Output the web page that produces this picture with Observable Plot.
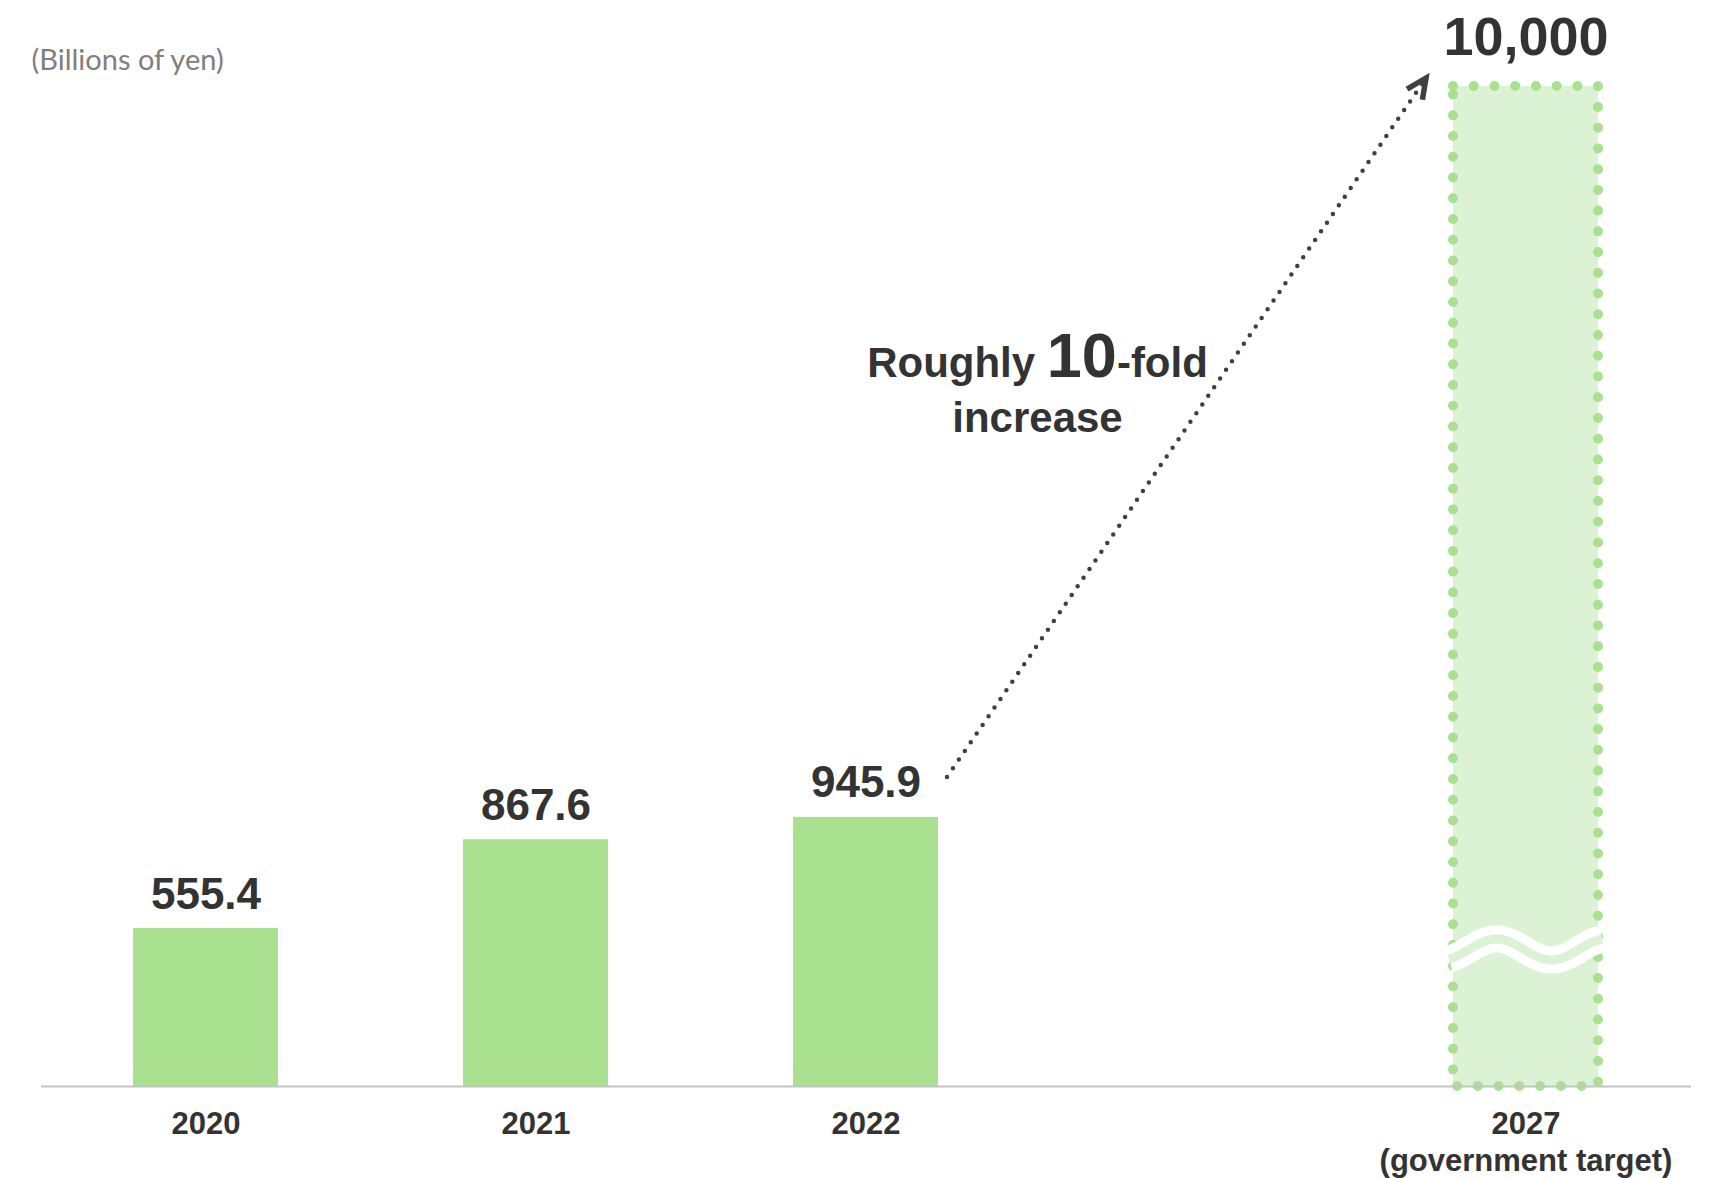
<!DOCTYPE html>
<html><head><meta charset="utf-8">
<script src="https://cdn.jsdelivr.net/npm/d3@7"></script>
<script src="https://cdn.jsdelivr.net/npm/@observablehq/plot@0.6"></script>
<style>
body{margin:0;background:#fff;}
#chart svg{display:block;}
</style></head><body><div id="chart"></div>
<script>
// ---- data ----
const years = ["2020", "2021", "2022", "2027"];
const values = [555.4, 867.6, 945.9, 10000];
const valueLabels = ["555.4", "867.6", "945.9", "10,000"];
const tickLabels = ["2020", "2021", "2022", "2027\n(government target)"];
const kinds = ["actual", "actual", "actual", "target"];
const xDomain = ["2020", "2021", "2022", "gap", "2027"];
const unitLabel = "(Billions of yen)";
const annotationLine1 = ["Roughly ", "10", "-fold"];
const annotationLine2 = "increase";
const breakValue = 480; // where the axis break (wave) is drawn on the target bar

const data = years.map((year, i) => ({year, value: values[i], label: valueLabels[i], tick: tickLabels[i], kind: kinds[i]}));
const actual = data.filter(d => d.kind === "actual");
const target = data.filter(d => d.kind === "target");

const GREEN = "#a9e190", LIGHT = "#dcf2d4", DARK = "#333333", ARROW = "#404040";
const FONT = "'Liberation Sans', Arial, Helvetica, sans-serif";

// wave (axis break) on the target bar
const breakMark = (index, {x, y}) => {
  const bw = x.bandwidth();
  const left = x("2027") - 4, right = x("2027") + bw + 4;
  const yc = y(breakValue);
  const amp = 10.5, period = 110, phase = x("2027") + 16;
  const pts = d3.range(0, 81).map(i => {
    const px = left + (right - left) * i / 80;
    return [px, yc - amp * Math.sin(2 * Math.PI * (px - phase) / period)];
  });
  const line = d3.line();
  const g = d3.create("svg:g");
  g.append("path").attr("d", line(pts)).attr("fill", "none").attr("stroke", "#ffffff").attr("stroke-width", 27);
  g.append("path").attr("d", line(pts)).attr("fill", "none").attr("stroke", LIGHT).attr("stroke-width", 9);
  return g.node();
};

// dotted arrow from 2022 bar to 2027 target
const arrowMark = (index, {x, y}) => {
  const bw = x.bandwidth();
  const x1 = x("2022") + bw + 9, y1 = y(values[2]) - 40;
  const x2 = x("2027") - 27, y2 = y(values[3]) - 8;
  const g = d3.create("svg:g");
  g.append("line").attr("x1", x1).attr("y1", y1).attr("x2", x2 - 4).attr("y2", y2 + 6)
    .attr("stroke", ARROW).attr("stroke-width", 4.5).attr("stroke-linecap", "round").attr("stroke-dasharray", "0 10.5");
  const ang = Math.atan2(y1 - y2, x1 - x2);
  const L = 22, spread = 25 * Math.PI / 180;
  const wa = [ang + spread, ang - spread].map(a => [x2 + L * Math.cos(a), y2 + L * Math.sin(a)]);
  g.append("path").attr("d", `M${wa[0][0]},${wa[0][1]}L${x2},${y2}L${wa[1][0]},${wa[1][1]}`)
    .attr("fill", "none").attr("stroke", ARROW).attr("stroke-width", 5.5).attr("stroke-linejoin", "miter");
  return g.node();
};

// "Roughly 10-fold increase" annotation
const annotationMark = (index, {x, y}) => {
  const bw = x.bandwidth();
  const cx = (x("2022") + x("gap")) / 2 + bw / 2 + 7;
  const base = y(values[3]);
  const g = d3.create("svg:g").attr("font-family", FONT).attr("font-weight", "bold").attr("fill", DARK).attr("text-anchor", "middle");
  const t1 = g.append("text").attr("x", cx).attr("y", base + 291);
  t1.append("tspan").attr("font-size", 42).text(annotationLine1[0]);
  t1.append("tspan").attr("font-size", 63).text(annotationLine1[1]);
  t1.append("tspan").attr("font-size", 42).text(annotationLine1[2]);
  g.append("text").attr("x", cx).attr("y", base + 346).attr("font-size", 42).text(annotationLine2);
  return g.node();
};

const chart = Plot.plot({
  width: 1722, height: 1178,
  marginLeft: 41, marginRight: 31, marginTop: 86, marginBottom: 92,
  style: {fontFamily: FONT, background: "#ffffff", overflow: "visible"},
  x: {type: "band", domain: xDomain, paddingInner: 0.56, paddingOuter: 0.28, axis: null},
  y: {type: "linear", domain: [0, 1000, 10000], range: [1086, 801.5, 86], axis: null},
  marks: [
    Plot.barY(actual, {x: "year", y: "value", fill: GREEN}),
    Plot.barY(target, {x: "year", y: "value", fill: LIGHT, stroke: GREEN, strokeWidth: 10,
      strokeDasharray: "0 20.74", strokeLinecap: "round"}),
    breakMark,
    Plot.ruleY([0], {stroke: "#c3c3c3", strokeWidth: 2}),
    Plot.text(actual, {x: "year", y: "value", text: "label", dy: -34, fontSize: 44, fontWeight: "bold", fill: DARK, lineAnchor: "middle"}),
    Plot.text(target, {x: "year", y: "value", text: "label", dy: -49, fontSize: 54, fontWeight: "bold", fill: DARK, lineAnchor: "middle"}),
    Plot.text(data, {x: "year", y: () => 0, text: "tick", lineAnchor: "top", dy: 22, fontSize: 31, fontWeight: "bold", fill: DARK, lineHeight: 1.17}),
    Plot.text([unitLabel], {frameAnchor: "top-left", textAnchor: "start", lineAnchor: "middle", dx: -10, dy: -26,
      fontSize: 29, fill: "#7f7f7f", fontFamily: "Lato, 'Open Sans', sans-serif"}),
    arrowMark,
    annotationMark
  ]
});
document.getElementById("chart").appendChild(chart);
</script>
</body></html>
